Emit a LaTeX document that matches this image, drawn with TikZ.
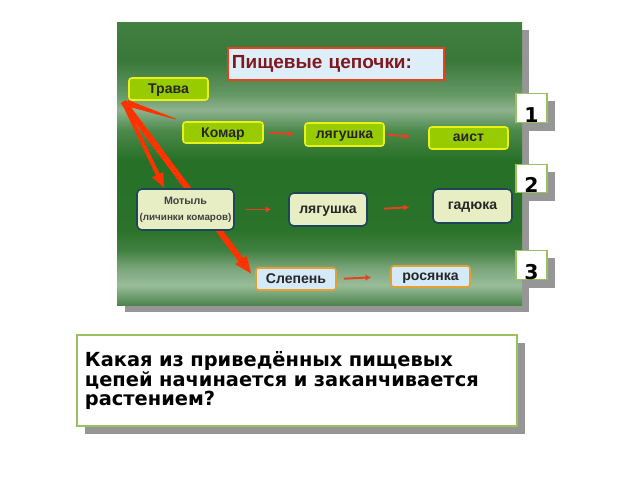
\documentclass[tikz,border=0pt]{standalone}
\usepackage{fontspec}
\setmainfont{Liberation Sans}
\newfontfamily\qfont{DejaVu Sans}
\usetikzlibrary{arrows.meta,backgrounds,shadows}

\definecolor{grassfill}{RGB}{153,204,0}
\definecolor{grassedge}{RGB}{232,242,20}
\definecolor{palefill}{RGB}{232,238,196}
\definecolor{paleedge}{RGB}{30,70,90}
\definecolor{skyfill}{RGB}{212,234,248}
\definecolor{skyedge}{RGB}{230,160,50}
\definecolor{titleedge}{RGB}{232,64,32}
\definecolor{titletext}{RGB}{128,24,32}
\definecolor{arrowred}{RGB}{255,51,0}
\definecolor{numedge}{RGB}{155,192,96}
\definecolor{shadowgray}{RGB}{150,150,150}

\pgfdeclareverticalshading{panelshade}{100bp}{%
  rgb(0bp)=(0.30,0.52,0.30); rgb(25bp)=(0.30,0.52,0.30);
  rgb(28.5bp)=(0.60,0.74,0.60); rgb(31.5bp)=(0.48,0.65,0.48);
  rgb(34.7bp)=(0.25,0.50,0.25); rgb(38.25bp)=(0.17,0.45,0.17);
  rgb(50.6bp)=(0.15,0.44,0.15); rgb(55.9bp)=(0.30,0.54,0.30);
  rgb(59.5bp)=(0.56,0.70,0.56); rgb(62.1bp)=(0.40,0.60,0.40);
  rgb(68.3bp)=(0.22,0.47,0.22); rgb(75bp)=(0.26,0.50,0.26);
  rgb(100bp)=(0.26,0.50,0.26)}

\tikzset{
  food/.style={font=\bfseries\fontsize{10}{12}\selectfont, text=black!85,
    line width=1.1pt, rounded corners=2pt, inner sep=0pt, text depth=0pt,
    minimum width=1.975cm, minimum height=0.55cm},
  grass/.style={food, draw=grassedge, fill=grassfill},
  pale/.style={food, draw=paleedge, fill=palefill, rounded corners=3.5pt},
  sky/.style={food, draw=skyedge, fill=skyfill},
  link/.style={draw=titleedge, line width=1.4pt, -{Latex[length=4pt,width=4.5pt]}},
  feeds/.style={draw=arrowred, fill=arrowred},
  grayshadow/.style={drop shadow={shadow xshift=0.2cm, shadow yshift=-0.2cm,
    fill=shadowgray, opacity=1}},
  numbox/.style={draw=numedge, fill=white, line width=1.1pt, grayshadow,
    font=\qfont\bfseries\fontsize{14.5}{15}\selectfont, inner sep=0pt,
    minimum width=0.775cm, text height=0.725cm, text depth=0pt}
}

\begin{document}
\begin{tikzpicture}[x=0.025cm, y=-0.025cm]
\useasboundingbox (0,0) rectangle (640,480);

% title and food chains
\node[draw=titleedge, line width=1.4pt, fill=skyfill!80!white, text=titletext,
  font=\bfseries\fontsize{13.5}{15}\selectfont, inner xsep=0.1cm, text width=5.2cm,
  align=left, minimum height=0.8cm] (title) at (336,64) {Пищевые цепочки:};
\node[grass] (trava) at (168.5,89) {Трава};

\node[grass, minimum width=2cm, minimum height=0.525cm] (komar) at (223,132.5) {Комар};
\node[grass, minimum height=0.575cm] (frog) at (344.5,134.5) {лягушка};
\node[grass] (stork) at (468.5,138) {аист};

\node[pale, minimum width=2.425cm, minimum height=1.025cm, align=center, text=black!75,
  text depth=, font=\bfseries\fontsize{7}{11.4}\selectfont]
  (motyl) at (185.5,209.5) {{\fontsize{7.6}{11.4}\selectfont Мотыль}\\(личинки комаров)};
\node[pale, minimum width=1.95cm, minimum height=0.825cm] (frogb) at (328,209.5) {лягушка};
\node[pale, minimum height=0.85cm] (viper) at (472.5,206) {гадюка};

\node[sky, minimum width=2cm] (slepen) at (296,279) {Слепень};
\node[sky, minimum height=0.525cm] (sundew) at (430.5,276.5) {росянка};

\draw[link, shorten <=0.125cm, shorten >=0.25cm] (komar.east) -- (frog.west);
\draw[link, shorten <=0.075cm, shorten >=0.45cm] (frog.east) -- (stork.west);
\draw[link, shorten <=0.275cm, shorten >=0.425cm] (motyl.east) -- (frogb.west);
\draw[link, shorten <=0.4cm, shorten >=0.575cm] (frogb.east) -- (viper.west);
\draw[link, shorten <=0.175cm, shorten >=0.475cm] (slepen.east) -- (sundew.west);

% numbers
\node[numbox] (one) at (531.5,108) {1};
\node[numbox, text height=0.7cm] (two) at (531.5,178.5) {2};
\node[numbox] (three) at (531.5,265) {3};

% question
\node[draw=numedge, fill=white, line width=1.1pt, grayshadow, inner xsep=0.2cm,
  text width=10.6cm, align=left, minimum height=2.275cm,
  font=\qfont\bfseries\fontsize{13.8}{13.4}\selectfont] (question) at (297,380.5)
  {Какая из приведённых пищевых\\цепей начинается и заканчивается\\растением?};

\begin{scope}[on background layer]
\fill[shadowgray] (125,30) rectangle (529,312);
\shade[shading=panelshade] (117,22) rectangle (522,305);
\coordinate (root) at ([xshift=-0.125cm, yshift=-0.025cm]trava.south west);
\draw[feeds, line width=0.5pt, -{Triangle[length=1.45cm, width=0.15cm]}] (root) -- (komar.north west);
\draw[feeds, line width=0.1cm, -{Triangle[length=0.375cm, width=0.275cm]}] (root) -- (motyl.135);
\draw[feeds, line width=0.15cm, shorten >=0.15cm, -{Triangle[length=0.45cm, width=0.325cm]}] (root) -- (slepen.west);
\end{scope}
\end{tikzpicture}
\end{document}
